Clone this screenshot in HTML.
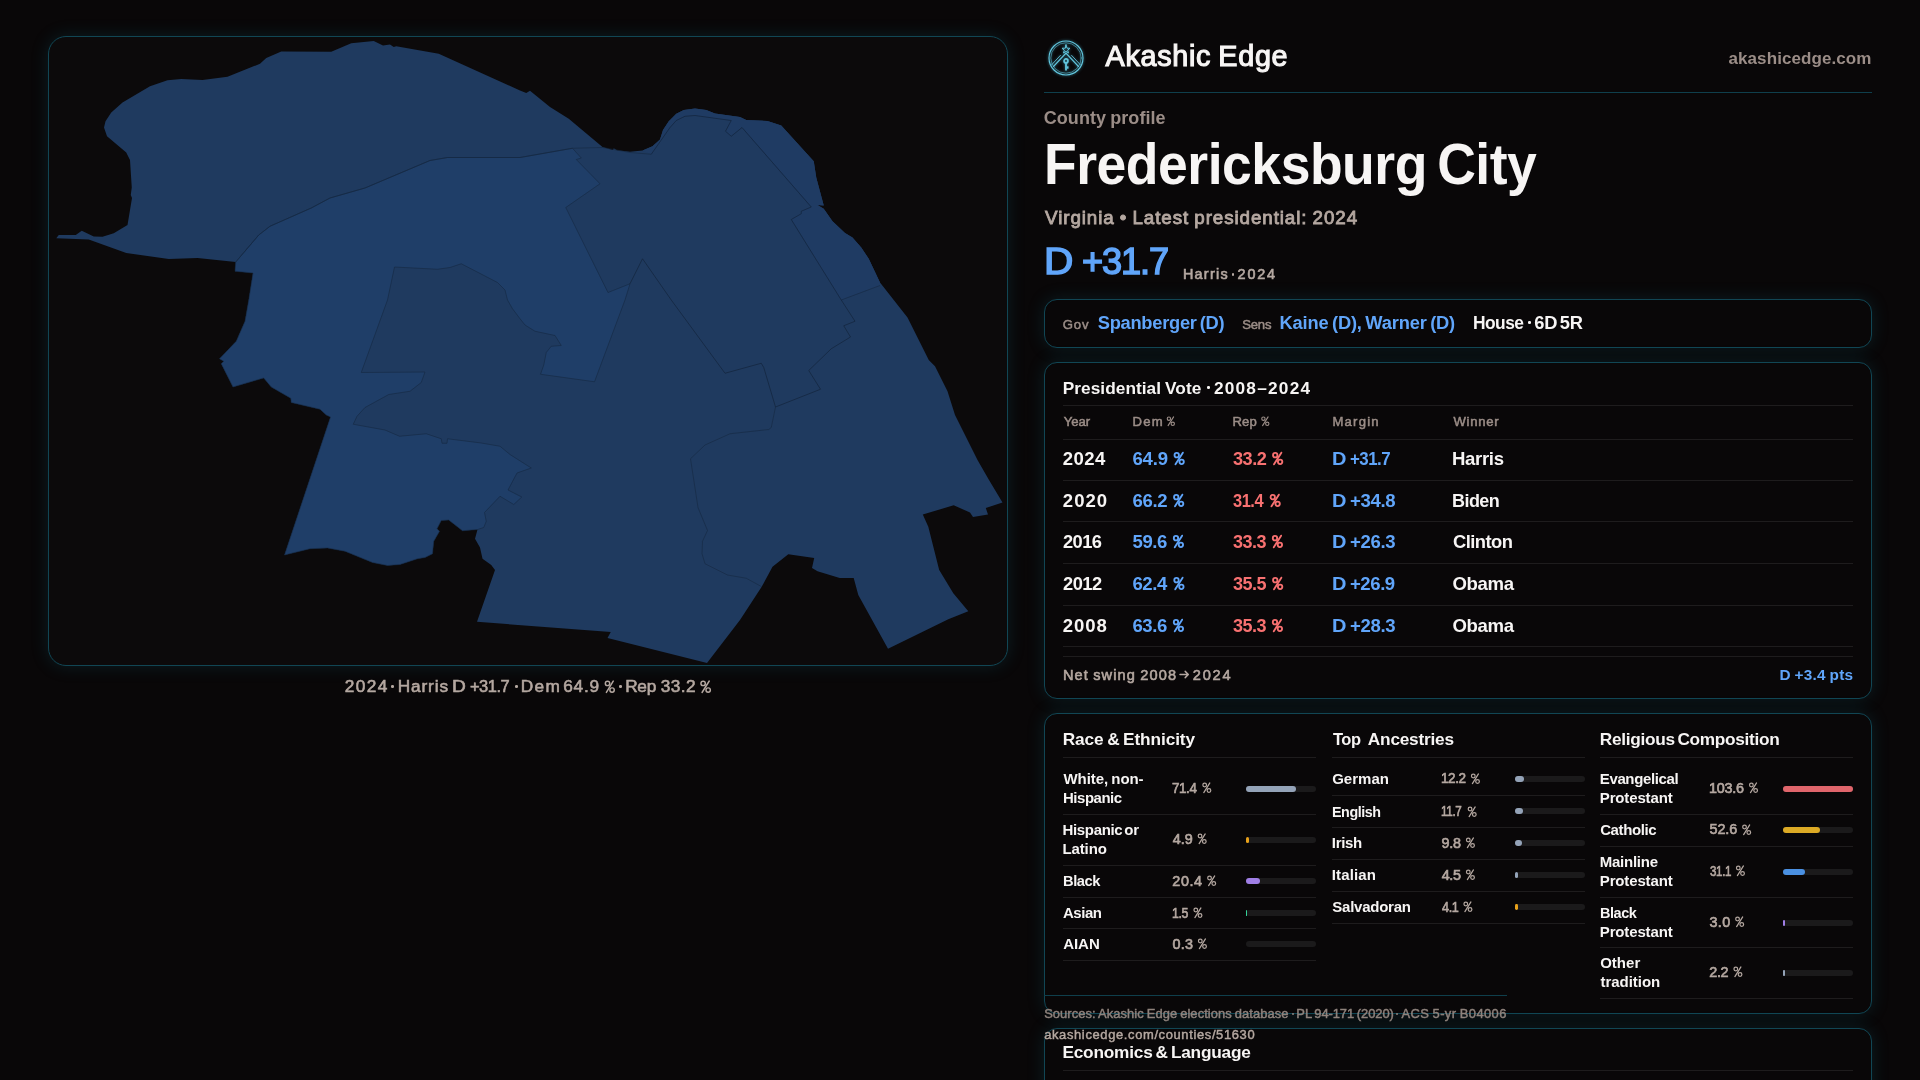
<!DOCTYPE html>
<html><head><meta charset="utf-8"><title>Fredericksburg City</title><style>
html,body{margin:0;padding:0;background:#090708;}
body{width:1920px;height:1080px;position:relative;overflow:hidden;font-family:"Liberation Sans",sans-serif;}
.t{position:absolute;white-space:nowrap;line-height:1;}
.panel{position:absolute;box-sizing:border-box;border:1px solid #114654;border-radius:13px;background:#090708;box-shadow:0 0 18px rgba(20,120,140,0.20);}
.hl{position:absolute;height:1px;}
.tl{position:absolute;left:0;top:0;width:1920px;height:1080px;will-change:transform;}
.bt{position:absolute;width:70px;height:6px;border-radius:3px;background:#1b1a1b;}
.bf{position:absolute;height:6px;}
.map{position:absolute;left:48px;top:37px;}
.logo{position:absolute;left:1046px;top:38px;filter:drop-shadow(0 0 1.5px rgba(80,200,230,0.6));}
</style></head><body>
<div class="panel" style="left:48px;top:36px;width:960px;height:629.5px;border-radius:18px;background:#0c0a0b"></div>
<svg class="map" width="960" height="629" viewBox="0 0 960 629">
<polygon points="8.25,201.25 10.75,198.00 27.75,198.00 33.75,193.75 45.75,199.50 54.50,199.75 65.75,196.25 79.50,188.00 84.00,161.00 82.75,158.00 83.75,150.50 82.00,123.00 78.25,115.50 59.00,99.25 56.00,90.50 57.50,84.25 63.25,75.50 74.50,65.50 102.00,49.25 119.50,43.25 133.25,42.00 154.50,43.00 179.50,39.75 212.00,26.75 218.25,21.00 233.25,14.50 283.25,14.75 303.25,6.25 325.75,4.00 335.00,8.50 342.00,7.50 345.75,10.00 348.25,9.25 390.75,16.75 472.00,53.50 478.25,56.00 482.00,53.75 502.00,70.00 520.75,81.75 554.50,110.00 565.00,113.00 565.75,111.25 569.00,113.25 582.00,114.75 594.50,113.50 604.50,109.25 612.00,102.50 615.00,93.00 620.75,84.25 628.25,76.75 635.75,73.00 647.00,71.50 658.25,73.00 667.00,76.50 692.00,80.00 698.25,83.00 719.50,84.00 733.25,88.50 765.75,124.25 768.25,140.50 775.75,168.50 769.50,168.00 775.75,171.75 784.50,184.25 797.00,196.00 804.50,200.50 813.25,210.50 820.75,221.75 832.00,245.50 845.75,263.00 859.50,280.50 880.75,323.00 887.00,329.25 899.50,354.25 907.00,378.00 929.50,423.00 941.00,443.00 954.50,465.50 937.80,471.00 940.00,477.50 925.00,480.00 922.00,475.50 905.70,468.30 874.80,477.50 880.30,489.70 891.20,533.00 905.30,556.30 920.30,574.20 900.30,582.20 840.00,611.80 810.30,558.00 805.70,541.00 791.70,541.00 769.50,534.30 764.00,531.00 766.20,521.00 740.30,517.20 724.50,529.70 713.70,549.70 692.00,583.00 659.00,626.00 559.50,601.00 562.75,595.00 429.00,584.75 447.00,533.00 443.25,528.00 434.50,521.75 432.00,510.50 427.00,501.75 429.50,492.50 414.50,493.75 400.75,483.00 393.25,483.50 389.00,491.75 391.50,494.25 385.75,504.25 384.50,516.75 377.00,520.50 369.50,521.75 352.00,527.50 339.50,528.50 324.50,525.50 297.00,514.25 279.50,511.00 262.00,511.75 236.50,518.00 282.50,380.00 278.25,378.00 272.00,372.25 243.25,365.50 242.75,361.25 223.25,350.00 215.75,341.00 185.00,350.00 173.25,326.75 175.75,324.25 171.50,321.75 188.25,304.25 197.00,284.25 200.75,263.00 205.00,236.00 187.00,234.25 187.75,225.00 149.50,221.00 120.75,222.00 78.25,216.00 40.75,202.50" fill="#1f3a5f"/>
<polygon points="603.25,117.25 622.00,90.50 628.25,83.50 637.00,79.25 647.00,78.50 683.25,83.50 677.50,94.25 683.25,99.25 694.00,90.50 763.25,170.00 753.25,174.25 753.25,176.75 743.25,182.50 793.25,263.00 832.00,248.50 832.00,245.50 820.75,221.75 813.25,210.50 804.50,200.50 797.00,196.00 784.50,184.25 775.75,171.75 769.50,168.00 775.75,168.50 768.25,140.50 765.75,124.25 733.25,88.50 719.50,84.00 698.25,83.00 692.00,80.00 667.00,76.50 658.25,73.00 647.00,71.50 635.75,73.00 628.25,76.75 620.75,84.25 615.00,93.00 612.00,102.50 604.50,109.25 594.50,113.50" fill="#1f3b63"/>
<polygon points="187.75,225.00 210.75,198.00 222.00,189.25 263.25,171.00 282.00,161.00 317.00,151.00 382.00,123.50 399.50,120.50 472.00,120.50 524.50,111.25 533.25,121.00 528.25,122.50 552.00,146.75 517.75,170.50 560.00,255.50 582.00,246.75 577.00,263.00 546.50,344.75 492.50,337.25 495.75,328.00 498.25,315.50 503.25,309.25 513.25,308.50 507.00,298.50 487.00,294.25 477.00,288.00 472.00,281.75 464.50,271.75 459.50,263.00 457.00,253.00 449.50,245.50 413.25,226.75 402.00,230.50 389.50,232.25 346.50,230.00 339.50,263.00 313.25,335.50 377.00,335.00 373.25,345.50 362.00,354.25 340.75,357.50 317.00,370.50 309.00,379.25 305.25,387.25 337.00,393.00 351.50,399.25 378.25,396.75 393.25,401.75 394.00,406.25 399.00,406.25 399.50,401.75 433.25,406.00 452.00,409.25 462.00,417.50 483.25,431.00 469.00,436.00 460.00,453.00 473.75,460.00 465.75,467.50 452.00,459.25 436.50,475.50 438.25,484.25 435.75,490.50 429.50,492.50 414.50,493.75 400.75,483.00 393.25,483.50 389.00,491.75 391.50,494.25 385.75,504.25 384.50,516.75 377.00,520.50 369.50,521.75 352.00,527.50 339.50,528.50 324.50,525.50 297.00,514.25 279.50,511.00 262.00,511.75 236.50,518.00 282.50,380.00 278.25,378.00 272.00,372.25 243.25,365.50 242.75,361.25 223.25,350.00 215.75,341.00 185.00,350.00 173.25,326.75 175.75,324.25 171.50,321.75 188.25,304.25 197.00,284.25 200.75,263.00 205.00,236.00 187.00,234.25" fill="#1f3e68" stroke="#15273f" stroke-width="0.55"/>
<polyline points="187.75,225.00 210.75,198.00 222.00,189.25 263.25,171.00 282.00,161.00 317.00,151.00 382.00,123.50 399.50,120.50 472.00,120.50 524.50,111.25 554.50,110.50 582.00,115.50 603.25,117.25" fill="none" stroke="#15273f" stroke-width="0.55"/>
<polyline points="603.25,117.25 622.00,90.50 628.25,83.50 637.00,79.25 647.00,78.50 683.25,83.50 677.50,94.25 683.25,99.25 694.00,90.50 763.25,170.00 753.25,174.25 753.25,176.75 743.25,182.50 793.25,263.00 807.00,284.25 795.75,288.75 802.50,300.00 783.25,311.75 760.75,333.50 772.50,352.25 727.50,370.00 715.75,330.50 713.25,326.25 677.00,336.25 623.25,263.00 594.50,221.75 582.00,246.75" fill="none" stroke="#0f1d31" stroke-width="0.55"/>
<polyline points="793.25,263.00 832.00,248.50" fill="none" stroke="#15273f" stroke-width="0.55"/>
<polyline points="727.50,370.00 723.25,390.50 720.75,392.50 682.00,396.75 657.00,408.00 642.50,421.75 650.00,470.50 659.50,493.50 654.50,504.25 654.00,516.75 657.00,526.75 679.50,538.00 698.25,541.25 713.70,549.70" fill="none" stroke="#15273f" stroke-width="0.55"/>
</svg>
<div class="hl" style="left:1044px;top:91.7px;width:828px;background:#0f3f4c"></div>
<svg class="logo" width="40" height="40" viewBox="-20 -20 40 40" fill="none" stroke="#62c6de" stroke-linecap="round" stroke-linejoin="round">
<circle r="17" stroke-width="1.15"/><circle r="15.2" stroke-width="0.75" opacity="0.7"/>
<path d="M0,-4.9 L-12.4,8.4 M0,-4.9 L12.4,8.4" stroke-width="1.35"/>
<path d="M-5.6,-2.6 L-14.2,6.6 M5.6,-2.6 L14.2,6.6" stroke-width="0.95" opacity="0.9"/>
<polygon points="0.00,-12.60 1.03,-9.82 3.99,-9.70 1.66,-7.86 2.47,-5.00 0.00,-6.65 -2.47,-5.00 -1.66,-7.86 -3.99,-9.70 -1.03,-9.82" stroke-width="1.0"/>
<path d="M0,-12.6 V-13.6" stroke-width="0.9"/>
<circle cx="0" cy="2.9" r="1.95" stroke-width="1.7"/>
<path d="M0,5 V12.4" stroke-width="1.8" stroke-linecap="butt"/>
<path d="M0.6,8.3 H2.5 V10.7 H0.6 Z" fill="#62c6de" stroke="none"/>
</svg>
<div class="panel" style="left:1044px;top:299px;width:828px;height:49px"></div>
<div class="panel" style="left:1044px;top:362px;width:828px;height:336.5px"></div>
<div class="panel" style="left:1044px;top:712.5px;width:828px;height:301px"></div>
<div class="panel" style="left:1044px;top:1027.8px;width:828px;height:120px"></div>
<div class="hl" style="left:1044px;top:994.8px;width:463px;background:#0f3f4c"></div>
<div class="hl" style="left:1063px;top:404.75px;width:790px;background:#1e1c1d"></div><div class="hl" style="left:1063px;top:439.00px;width:790px;background:#1e1c1d"></div><div class="hl" style="left:1063px;top:480.00px;width:790px;background:#1e1c1d"></div><div class="hl" style="left:1063px;top:521.00px;width:790px;background:#1e1c1d"></div><div class="hl" style="left:1063px;top:563.00px;width:790px;background:#1e1c1d"></div><div class="hl" style="left:1063px;top:605.00px;width:790px;background:#1e1c1d"></div><div class="hl" style="left:1063px;top:646.00px;width:790px;background:#1e1c1d"></div><div class="hl" style="left:1063px;top:655.75px;width:790px;background:#1e1c1d"></div><div class="hl" style="left:1063px;top:757.00px;width:253px;background:#1e1c1d"></div><div class="hl" style="left:1063px;top:814.00px;width:253px;background:#1e1c1d"></div><div class="hl" style="left:1063px;top:864.75px;width:253px;background:#1e1c1d"></div><div class="hl" style="left:1063px;top:897.00px;width:253px;background:#1e1c1d"></div><div class="hl" style="left:1063px;top:927.75px;width:253px;background:#1e1c1d"></div><div class="hl" style="left:1063px;top:960.00px;width:253px;background:#1e1c1d"></div><div class="hl" style="left:1332px;top:757.00px;width:253px;background:#1e1c1d"></div><div class="hl" style="left:1332px;top:794.75px;width:253px;background:#1e1c1d"></div><div class="hl" style="left:1332px;top:826.75px;width:253px;background:#1e1c1d"></div><div class="hl" style="left:1332px;top:858.75px;width:253px;background:#1e1c1d"></div><div class="hl" style="left:1332px;top:890.75px;width:253px;background:#1e1c1d"></div><div class="hl" style="left:1332px;top:922.75px;width:253px;background:#1e1c1d"></div><div class="hl" style="left:1600px;top:757.00px;width:253px;background:#1e1c1d"></div><div class="hl" style="left:1600px;top:814.00px;width:253px;background:#1e1c1d"></div><div class="hl" style="left:1600px;top:846.00px;width:253px;background:#1e1c1d"></div><div class="hl" style="left:1600px;top:897.00px;width:253px;background:#1e1c1d"></div><div class="hl" style="left:1600px;top:947.00px;width:253px;background:#1e1c1d"></div><div class="hl" style="left:1600px;top:997.75px;width:253px;background:#1e1c1d"></div><div class="hl" style="left:1063px;top:1069.60px;width:790px;background:#1e1c1d"></div>
<div class="bt" style="left:1245.75px;top:785.75px"></div><div class="bf" style="left:1245.75px;top:785.75px;width:49.98px;background:#94a3b8;border-radius:3.0px"></div><div class="bt" style="left:1245.75px;top:837.00px"></div><div class="bf" style="left:1245.75px;top:837.00px;width:3.43px;background:#e8a11a;border-radius:1.7px"></div><div class="bt" style="left:1245.75px;top:877.75px"></div><div class="bf" style="left:1245.75px;top:877.75px;width:14.28px;background:#a07fe6;border-radius:3.0px"></div><div class="bt" style="left:1245.75px;top:910.00px"></div><div class="bf" style="left:1245.75px;top:910.00px;width:1.05px;background:#34d399;border-radius:0.5px"></div><div class="bt" style="left:1245.75px;top:940.75px"></div><div class="bt" style="left:1515px;top:775.75px"></div><div class="bf" style="left:1515px;top:775.75px;width:8.54px;background:#94a3b8;border-radius:3.0px"></div><div class="bt" style="left:1515px;top:807.75px"></div><div class="bf" style="left:1515px;top:807.75px;width:8.19px;background:#94a3b8;border-radius:3.0px"></div><div class="bt" style="left:1515px;top:839.75px"></div><div class="bf" style="left:1515px;top:839.75px;width:6.86px;background:#94a3b8;border-radius:3.0px"></div><div class="bt" style="left:1515px;top:871.75px"></div><div class="bf" style="left:1515px;top:871.75px;width:3.15px;background:#94a3b8;border-radius:1.6px"></div><div class="bt" style="left:1515px;top:903.75px"></div><div class="bf" style="left:1515px;top:903.75px;width:2.87px;background:#e8a11a;border-radius:1.4px"></div><div class="bt" style="left:1783px;top:785.75px"></div><div class="bf" style="left:1783px;top:785.75px;width:70.00px;background:#e0656b;border-radius:3.0px"></div><div class="bt" style="left:1783px;top:827.00px"></div><div class="bf" style="left:1783px;top:827.00px;width:36.82px;background:#dcaa25;border-radius:3.0px"></div><div class="bt" style="left:1783px;top:868.75px"></div><div class="bf" style="left:1783px;top:868.75px;width:21.77px;background:#4a90e2;border-radius:3.0px"></div><div class="bt" style="left:1783px;top:920.00px"></div><div class="bf" style="left:1783px;top:920.00px;width:2.10px;background:#a07fe6;border-radius:1.1px"></div><div class="bt" style="left:1783px;top:970.00px"></div><div class="bf" style="left:1783px;top:970.00px;width:1.54px;background:#94a3b8;border-radius:0.8px"></div>
<div style="position:absolute;left:1232.05px;top:273.25px;width:2.3px;height:2.3px;border-radius:50%;background:#b5a8a1"></div><div style="position:absolute;left:1528.10px;top:321.30px;width:2.6px;height:2.6px;border-radius:50%;background:#f7f5f4"></div><div style="position:absolute;left:1207.30px;top:386.30px;width:2.6px;height:2.6px;border-radius:50%;background:#f7f5f4"></div><div style="position:absolute;left:1291.60px;top:1013.30px;width:2.0px;height:2.0px;border-radius:50%;background:#8f837d"></div><div style="position:absolute;left:1396.30px;top:1013.30px;width:2.0px;height:2.0px;border-radius:50%;background:#8f837d"></div><div style="position:absolute;left:391.40px;top:685.25px;width:2.7px;height:2.7px;border-radius:50%;background:#b5a8a1"></div><div style="position:absolute;left:514.85px;top:685.25px;width:2.7px;height:2.7px;border-radius:50%;background:#b5a8a1"></div><div style="position:absolute;left:618.95px;top:685.25px;width:2.7px;height:2.7px;border-radius:50%;background:#b5a8a1"></div>
<svg style="position:absolute;left:0;top:0" width="1920" height="1080" viewBox="0 0 1920 1080" fill="none" stroke-linecap="round"><g stroke="#9b8d87" stroke-width="1.11"><circle cx="1168.91" cy="418.73" r="1.67"/><circle cx="1172.77" cy="423.77" r="1.67"/><path d="M1173.59,416.89 L1168.10,425.61"/></g><g stroke="#9b8d87" stroke-width="1.11"><circle cx="1263.41" cy="418.73" r="1.67"/><circle cx="1267.27" cy="423.77" r="1.67"/><path d="M1268.09,416.89 L1262.60,425.61"/></g><g stroke="#60a5fa" stroke-width="1.86"><circle cx="1176.74" cy="455.13" r="2.20"/><circle cx="1181.62" cy="461.87" r="2.20"/><path d="M1182.86,452.65 L1175.50,464.35"/></g><g stroke="#f87171" stroke-width="1.86"><circle cx="1275.24" cy="455.13" r="2.20"/><circle cx="1280.12" cy="461.87" r="2.20"/><path d="M1281.36,452.65 L1274.00,464.35"/></g><g stroke="#60a5fa" stroke-width="1.86"><circle cx="1176.24" cy="497.13" r="2.20"/><circle cx="1181.12" cy="503.87" r="2.20"/><path d="M1182.36,494.65 L1175.00,506.35"/></g><g stroke="#f87171" stroke-width="1.86"><circle cx="1272.74" cy="497.13" r="2.20"/><circle cx="1277.62" cy="503.87" r="2.20"/><path d="M1278.86,494.65 L1271.50,506.35"/></g><g stroke="#60a5fa" stroke-width="1.86"><circle cx="1175.99" cy="538.13" r="2.20"/><circle cx="1180.87" cy="544.87" r="2.20"/><path d="M1182.11,535.65 L1174.75,547.35"/></g><g stroke="#f87171" stroke-width="1.86"><circle cx="1274.99" cy="538.13" r="2.20"/><circle cx="1279.87" cy="544.87" r="2.20"/><path d="M1281.11,535.65 L1273.75,547.35"/></g><g stroke="#60a5fa" stroke-width="1.86"><circle cx="1176.49" cy="580.13" r="2.20"/><circle cx="1181.37" cy="586.87" r="2.20"/><path d="M1182.61,577.65 L1175.25,589.35"/></g><g stroke="#f87171" stroke-width="1.86"><circle cx="1275.24" cy="580.13" r="2.20"/><circle cx="1280.12" cy="586.87" r="2.20"/><path d="M1281.36,577.65 L1274.00,589.35"/></g><g stroke="#60a5fa" stroke-width="1.86"><circle cx="1175.99" cy="622.13" r="2.20"/><circle cx="1180.87" cy="628.87" r="2.20"/><path d="M1182.11,619.65 L1174.75,631.35"/></g><g stroke="#f87171" stroke-width="1.86"><circle cx="1274.99" cy="622.13" r="2.20"/><circle cx="1279.87" cy="628.87" r="2.20"/><path d="M1281.11,619.65 L1273.75,631.35"/></g><g stroke="#b5a8a1" stroke-width="1.23"><circle cx="1204.69" cy="784.96" r="1.84"/><circle cx="1208.94" cy="790.54" r="1.84"/><path d="M1209.84,782.93 L1203.79,792.57"/></g><g stroke="#b5a8a1" stroke-width="1.23"><circle cx="1200.04" cy="835.96" r="1.84"/><circle cx="1204.29" cy="841.54" r="1.84"/><path d="M1205.19,833.93 L1199.14,843.57"/></g><g stroke="#b5a8a1" stroke-width="1.23"><circle cx="1209.54" cy="877.96" r="1.84"/><circle cx="1213.79" cy="883.54" r="1.84"/><path d="M1214.69,875.93 L1208.64,885.57"/></g><g stroke="#b5a8a1" stroke-width="1.23"><circle cx="1195.79" cy="909.96" r="1.84"/><circle cx="1200.04" cy="915.54" r="1.84"/><path d="M1200.94,907.93 L1194.89,917.57"/></g><g stroke="#b5a8a1" stroke-width="1.23"><circle cx="1200.29" cy="940.96" r="1.84"/><circle cx="1204.54" cy="946.54" r="1.84"/><path d="M1205.44,938.93 L1199.39,948.57"/></g><g stroke="#b5a8a1" stroke-width="1.23"><circle cx="1473.29" cy="775.96" r="1.84"/><circle cx="1477.54" cy="781.54" r="1.84"/><path d="M1478.44,773.93 L1472.39,783.57"/></g><g stroke="#b5a8a1" stroke-width="1.23"><circle cx="1470.04" cy="808.96" r="1.84"/><circle cx="1474.29" cy="814.54" r="1.84"/><path d="M1475.19,806.93 L1469.14,816.57"/></g><g stroke="#b5a8a1" stroke-width="1.23"><circle cx="1468.29" cy="839.96" r="1.84"/><circle cx="1472.54" cy="845.54" r="1.84"/><path d="M1473.44,837.93 L1467.39,847.57"/></g><g stroke="#b5a8a1" stroke-width="1.23"><circle cx="1468.29" cy="871.96" r="1.84"/><circle cx="1472.54" cy="877.54" r="1.84"/><path d="M1473.44,869.93 L1467.39,879.57"/></g><g stroke="#b5a8a1" stroke-width="1.23"><circle cx="1465.79" cy="903.96" r="1.84"/><circle cx="1470.04" cy="909.54" r="1.84"/><path d="M1470.94,901.93 L1464.89,911.57"/></g><g stroke="#b5a8a1" stroke-width="1.23"><circle cx="1751.39" cy="784.96" r="1.84"/><circle cx="1755.64" cy="790.54" r="1.84"/><path d="M1756.54,782.93 L1750.49,792.57"/></g><g stroke="#b5a8a1" stroke-width="1.23"><circle cx="1744.54" cy="826.96" r="1.84"/><circle cx="1748.79" cy="832.54" r="1.84"/><path d="M1749.69,824.93 L1743.64,834.57"/></g><g stroke="#b5a8a1" stroke-width="1.23"><circle cx="1738.29" cy="867.96" r="1.84"/><circle cx="1742.54" cy="873.54" r="1.84"/><path d="M1743.44,865.93 L1737.39,875.57"/></g><g stroke="#b5a8a1" stroke-width="1.23"><circle cx="1737.54" cy="918.96" r="1.84"/><circle cx="1741.79" cy="924.54" r="1.84"/><path d="M1742.69,916.93 L1736.64,926.57"/></g><g stroke="#b5a8a1" stroke-width="1.23"><circle cx="1735.79" cy="968.96" r="1.84"/><circle cx="1740.04" cy="974.54" r="1.84"/><path d="M1740.94,966.93 L1734.89,976.57"/></g><g stroke="#b5a8a1" stroke-width="1.46"><circle cx="607.53" cy="683.43" r="2.20"/><circle cx="612.07" cy="690.07" r="2.20"/><path d="M613.23,681.01 L606.37,692.49"/></g><g stroke="#b5a8a1" stroke-width="1.46"><circle cx="703.13" cy="683.43" r="2.20"/><circle cx="708.17" cy="690.07" r="2.20"/><path d="M709.25,681.01 L702.05,692.49"/></g></svg>
<svg style="position:absolute;left:1176px;top:668px" width="16" height="13" viewBox="1176 668 16 13" fill="none" stroke="#b5a8a1" stroke-width="1.5" stroke-linecap="round" stroke-linejoin="round"><path d="M1180,674.5 H1188 M1185.2,671.4 L1188.3,674.5 L1185.2,677.6"/></svg>
<div class="tl"><span class="t" style="left:1105.52px;top:42.00px;font-size:28.78px;letter-spacing:0.693px;color:#f7f5f4;word-spacing:-1.439px;-webkit-text-stroke:1.15px #f7f5f4;">Akashic Edge</span><span class="t" style="left:1728.50px;top:50.00px;font-size:17.00px;letter-spacing:0.087px;color:#9b8d87;font-weight:700;">akashicedge.com</span><span class="t" style="left:1043.76px;top:109.00px;font-size:18.00px;letter-spacing:0.059px;color:#9b8d87;word-spacing:-0.900px;font-weight:700;">County profile</span><span class="t" style="left:1044.17px;top:136.00px;font-size:57.57px;letter-spacing:-0.526px;color:#f7f5f4;word-spacing:-4.457px;font-weight:700;transform:scaleX(0.93);transform-origin:0 0;">Fredericksburg City</span><span class="t" style="left:1045.04px;top:209.00px;font-size:18.79px;letter-spacing:0.911px;color:#b5a8a1;word-spacing:-0.940px;-webkit-text-stroke:0.85px #b5a8a1;">Virginia • Latest presidential: 2024</span><span class="t" style="left:1044.28px;top:243.00px;font-size:37.30px;letter-spacing:0.000px;color:#60a5fa;-webkit-text-stroke:1.49px #60a5fa;transform:scaleX(1.0898773248670819);transform-origin:0 0;">D</span><span class="t" style="left:1081.86px;top:243.00px;font-size:37.30px;letter-spacing:-1.119px;color:#60a5fa;-webkit-text-stroke:1.49px #60a5fa;transform:scaleX(0.9693266716845824);transform-origin:0 0;">+31.7</span><span class="t" style="left:1182.90px;top:267.00px;font-size:14.36px;letter-spacing:1.300px;color:#b5a8a1;-webkit-text-stroke:0.65px #b5a8a1;">Harris</span><span class="t" style="left:1237.60px;top:267.00px;font-size:14.36px;letter-spacing:1.847px;color:#b5a8a1;-webkit-text-stroke:0.65px #b5a8a1;">2024</span><span class="t" style="left:1062.85px;top:318.00px;font-size:13.11px;letter-spacing:0.822px;color:#9b8d87;-webkit-text-stroke:0.52px #9b8d87;">Gov</span><span class="t" style="left:1097.72px;top:314.00px;font-size:18.29px;letter-spacing:-0.264px;color:#60a5fa;word-spacing:-1.707px;font-weight:700;">Spanberger (D)</span><span class="t" style="left:1242.16px;top:318.00px;font-size:13.11px;letter-spacing:-0.193px;color:#9b8d87;-webkit-text-stroke:0.52px #9b8d87;">Sens</span><span class="t" style="left:1279.53px;top:314.00px;font-size:18.29px;letter-spacing:-0.164px;color:#60a5fa;word-spacing:-1.406px;font-weight:700;">Kaine (D), Warner (D)</span><span class="t" style="left:1473.34px;top:314.00px;font-size:18.29px;letter-spacing:-0.549px;color:#f7f5f4;font-weight:700;transform:scaleX(0.9500124004519275);transform-origin:0 0;">House</span><span class="t" style="left:1534.33px;top:314.00px;font-size:18.29px;letter-spacing:-0.339px;color:#f7f5f4;word-spacing:-1.931px;font-weight:700;">6D 5R</span><span class="t" style="left:1062.75px;top:380.00px;font-size:17.25px;letter-spacing:0.046px;color:#f7f5f4;word-spacing:-0.863px;font-weight:700;">Presidential Vote</span><span class="t" style="left:1213.90px;top:380.00px;font-size:17.25px;letter-spacing:1.231px;color:#f7f5f4;font-weight:700;">2008–2024</span><span class="t" style="left:1063.87px;top:415.00px;font-size:13.11px;letter-spacing:-0.118px;color:#9b8d87;-webkit-text-stroke:0.52px #9b8d87;">Year</span><span class="t" style="left:1132.43px;top:415.00px;font-size:13.11px;letter-spacing:1.269px;color:#9b8d87;-webkit-text-stroke:0.52px #9b8d87;">Dem</span><span class="t" style="left:1232.43px;top:415.00px;font-size:13.11px;letter-spacing:0.176px;color:#9b8d87;-webkit-text-stroke:0.52px #9b8d87;">Rep</span><span class="t" style="left:1332.43px;top:415.00px;font-size:13.11px;letter-spacing:1.218px;color:#9b8d87;-webkit-text-stroke:0.52px #9b8d87;">Margin</span><span class="t" style="left:1453.45px;top:415.00px;font-size:13.11px;letter-spacing:0.747px;color:#9b8d87;-webkit-text-stroke:0.52px #9b8d87;">Winner</span><span class="t" style="left:1062.86px;top:450.00px;font-size:18.57px;letter-spacing:0.376px;color:#f7f5f4;font-weight:700;">2024</span><span class="t" style="left:1132.42px;top:450.00px;font-size:18.57px;letter-spacing:-0.163px;color:#60a5fa;font-weight:700;">64.9</span><span class="t" style="left:1232.83px;top:450.00px;font-size:18.57px;letter-spacing:-0.557px;color:#f87171;font-weight:700;transform:scaleX(0.9799291399866478);transform-origin:0 0;">33.2</span><span class="t" style="left:1331.91px;top:450.00px;font-size:18.57px;letter-spacing:0.000px;color:#60a5fa;font-weight:700;transform:scaleX(1.0755512003919647);transform-origin:0 0;">D</span><span class="t" style="left:1350.04px;top:450.00px;font-size:18.57px;letter-spacing:-0.557px;color:#60a5fa;font-weight:700;transform:scaleX(0.909275421148772);transform-origin:0 0;">+31.7</span><span class="t" style="left:1452.01px;top:450.00px;font-size:18.57px;letter-spacing:-0.336px;color:#f7f5f4;font-weight:700;">Harris</span><span class="t" style="left:1062.86px;top:492.00px;font-size:18.57px;letter-spacing:0.947px;color:#f7f5f4;font-weight:700;">2020</span><span class="t" style="left:1132.42px;top:492.00px;font-size:18.57px;letter-spacing:-0.312px;color:#60a5fa;font-weight:700;">66.2</span><span class="t" style="left:1232.87px;top:492.00px;font-size:18.57px;letter-spacing:-0.557px;color:#f87171;font-weight:700;transform:scaleX(0.8877024334755785);transform-origin:0 0;">31.4</span><span class="t" style="left:1331.91px;top:492.00px;font-size:18.57px;letter-spacing:0.000px;color:#60a5fa;font-weight:700;transform:scaleX(1.0755512003919647);transform-origin:0 0;">D</span><span class="t" style="left:1349.97px;top:492.00px;font-size:18.57px;letter-spacing:-0.347px;color:#60a5fa;font-weight:700;">+34.8</span><span class="t" style="left:1452.05px;top:492.00px;font-size:18.57px;letter-spacing:-0.557px;color:#f7f5f4;font-weight:700;transform:scaleX(0.9687907878375976);transform-origin:0 0;">Biden</span><span class="t" style="left:1062.87px;top:533.00px;font-size:18.57px;letter-spacing:-0.557px;color:#f7f5f4;font-weight:700;transform:scaleX(0.9849228818254152);transform-origin:0 0;">2016</span><span class="t" style="left:1132.53px;top:533.00px;font-size:18.57px;letter-spacing:-0.456px;color:#60a5fa;font-weight:700;">59.6</span><span class="t" style="left:1232.84px;top:533.00px;font-size:18.57px;letter-spacing:-0.557px;color:#f87171;font-weight:700;transform:scaleX(0.970308998086476);transform-origin:0 0;">33.3</span><span class="t" style="left:1331.91px;top:533.00px;font-size:18.57px;letter-spacing:0.000px;color:#60a5fa;font-weight:700;transform:scaleX(1.0755512003919647);transform-origin:0 0;">D</span><span class="t" style="left:1349.97px;top:533.00px;font-size:18.57px;letter-spacing:-0.322px;color:#60a5fa;font-weight:700;">+26.3</span><span class="t" style="left:1452.50px;top:533.00px;font-size:18.57px;letter-spacing:-0.557px;color:#f7f5f4;font-weight:700;transform:scaleX(0.9882116474456825);transform-origin:0 0;">Clinton</span><span class="t" style="left:1062.86px;top:575.00px;font-size:18.57px;letter-spacing:-0.557px;color:#f7f5f4;font-weight:700;transform:scaleX(0.9867906184289508);transform-origin:0 0;">2012</span><span class="t" style="left:1132.42px;top:575.00px;font-size:18.57px;letter-spacing:-0.443px;color:#60a5fa;font-weight:700;">62.4</span><span class="t" style="left:1232.84px;top:575.00px;font-size:18.57px;letter-spacing:-0.557px;color:#f87171;font-weight:700;transform:scaleX(0.97330384290857);transform-origin:0 0;">35.5</span><span class="t" style="left:1331.91px;top:575.00px;font-size:18.57px;letter-spacing:0.000px;color:#60a5fa;font-weight:700;transform:scaleX(1.0755512003919647);transform-origin:0 0;">D</span><span class="t" style="left:1349.97px;top:575.00px;font-size:18.57px;letter-spacing:-0.443px;color:#60a5fa;font-weight:700;">+26.9</span><span class="t" style="left:1452.49px;top:575.00px;font-size:18.57px;letter-spacing:-0.329px;color:#f7f5f4;font-weight:700;">Obama</span><span class="t" style="left:1062.86px;top:617.00px;font-size:18.57px;letter-spacing:0.884px;color:#f7f5f4;font-weight:700;">2008</span><span class="t" style="left:1132.42px;top:617.00px;font-size:18.57px;letter-spacing:-0.420px;color:#60a5fa;font-weight:700;">63.6</span><span class="t" style="left:1232.84px;top:617.00px;font-size:18.57px;letter-spacing:-0.557px;color:#f87171;font-weight:700;transform:scaleX(0.970308998086476);transform-origin:0 0;">35.3</span><span class="t" style="left:1331.91px;top:617.00px;font-size:18.57px;letter-spacing:0.000px;color:#60a5fa;font-weight:700;transform:scaleX(1.0755512003919647);transform-origin:0 0;">D</span><span class="t" style="left:1349.97px;top:617.00px;font-size:18.57px;letter-spacing:-0.322px;color:#60a5fa;font-weight:700;">+28.3</span><span class="t" style="left:1452.49px;top:617.00px;font-size:18.57px;letter-spacing:-0.329px;color:#f7f5f4;font-weight:700;">Obama</span><span class="t" style="left:1062.89px;top:668.00px;font-size:14.59px;letter-spacing:1.085px;color:#b5a8a1;word-spacing:-0.730px;-webkit-text-stroke:0.58px #b5a8a1;">Net swing 2008</span><span class="t" style="left:1192.86px;top:668.00px;font-size:14.59px;letter-spacing:1.771px;color:#b5a8a1;-webkit-text-stroke:0.58px #b5a8a1;">2024</span><span class="t" style="left:1779.47px;top:667.00px;font-size:15.35px;letter-spacing:0.250px;color:#60a5fa;word-spacing:-0.768px;font-weight:700;">D +3.4 pts</span><span class="t" style="left:1062.75px;top:731.00px;font-size:17.25px;letter-spacing:-0.098px;color:#f7f5f4;word-spacing:-1.155px;font-weight:700;">Race &amp; Ethnicity</span><span class="t" style="left:1332.71px;top:731.00px;font-size:17.25px;letter-spacing:-0.517px;color:#f7f5f4;font-weight:700;transform:scaleX(0.9553587383514779);transform-origin:0 0;">Top</span><span class="t" style="left:1367.87px;top:731.00px;font-size:17.25px;letter-spacing:-0.231px;color:#f7f5f4;font-weight:700;">Ancestries</span><span class="t" style="left:1599.75px;top:731.00px;font-size:17.25px;letter-spacing:-0.300px;color:#f7f5f4;word-spacing:-1.762px;font-weight:700;">Religious Composition</span><span class="t" style="left:1063.54px;top:771.00px;font-size:15.00px;letter-spacing:-0.064px;color:#f7f5f4;word-spacing:-0.941px;font-weight:700;">White, non-</span><span class="t" style="left:1062.55px;top:790.00px;font-size:15.00px;letter-spacing:-0.450px;color:#f7f5f4;font-weight:700;transform:scaleX(0.996087118510914);transform-origin:0 0;">Hispanic</span><span class="t" style="left:1172.37px;top:781.00px;font-size:14.36px;letter-spacing:-0.431px;color:#b5a8a1;-webkit-text-stroke:0.65px #b5a8a1;transform:scaleX(0.9313361873577756);transform-origin:0 0;">71.4</span><span class="t" style="left:1062.55px;top:822.00px;font-size:15.00px;letter-spacing:-0.347px;color:#f7f5f4;word-spacing:-1.790px;font-weight:700;">Hispanic or</span><span class="t" style="left:1062.55px;top:841.00px;font-size:15.00px;letter-spacing:-0.141px;color:#f7f5f4;font-weight:700;">Latino</span><span class="t" style="left:1172.75px;top:832.00px;font-size:14.36px;letter-spacing:0.051px;color:#b5a8a1;-webkit-text-stroke:0.65px #b5a8a1;">4.9</span><span class="t" style="left:1062.57px;top:873.00px;font-size:15.00px;letter-spacing:-0.450px;color:#f7f5f4;font-weight:700;transform:scaleX(0.9788365616099958);transform-origin:0 0;">Black</span><span class="t" style="left:1172.35px;top:874.00px;font-size:14.36px;letter-spacing:0.583px;color:#b5a8a1;-webkit-text-stroke:0.65px #b5a8a1;">20.4</span><span class="t" style="left:1063.18px;top:905.00px;font-size:15.00px;letter-spacing:-0.450px;color:#f7f5f4;font-weight:700;transform:scaleX(0.998848620802965);transform-origin:0 0;">Asian</span><span class="t" style="left:1172.09px;top:906.00px;font-size:14.36px;letter-spacing:-0.431px;color:#b5a8a1;-webkit-text-stroke:0.65px #b5a8a1;transform:scaleX(0.8560658336881646);transform-origin:0 0;">1.5</span><span class="t" style="left:1063.18px;top:936.00px;font-size:15.00px;letter-spacing:-0.027px;color:#f7f5f4;font-weight:700;">AIAN</span><span class="t" style="left:1172.51px;top:937.00px;font-size:14.36px;letter-spacing:0.267px;color:#b5a8a1;-webkit-text-stroke:0.65px #b5a8a1;">0.3</span><span class="t" style="left:1332.18px;top:771.00px;font-size:15.00px;letter-spacing:0.011px;color:#f7f5f4;font-weight:700;">German</span><span class="t" style="left:1441.03px;top:771.00px;font-size:14.36px;letter-spacing:-0.431px;color:#b5a8a1;-webkit-text-stroke:0.65px #b5a8a1;transform:scaleX(0.9397281461377032);transform-origin:0 0;">12.2</span><span class="t" style="left:1331.84px;top:804.00px;font-size:15.00px;letter-spacing:-0.450px;color:#f7f5f4;font-weight:700;transform:scaleX(0.9528360657030439);transform-origin:0 0;">English</span><span class="t" style="left:1441.13px;top:804.00px;font-size:14.36px;letter-spacing:-0.431px;color:#b5a8a1;-webkit-text-stroke:0.65px #b5a8a1;transform:scaleX(0.81224944648872);transform-origin:0 0;">11.7</span><span class="t" style="left:1331.80px;top:835.00px;font-size:15.00px;letter-spacing:-0.323px;color:#f7f5f4;font-weight:700;">Irish</span><span class="t" style="left:1441.40px;top:836.00px;font-size:14.36px;letter-spacing:-0.180px;color:#b5a8a1;-webkit-text-stroke:0.65px #b5a8a1;">9.8</span><span class="t" style="left:1331.80px;top:867.00px;font-size:15.00px;letter-spacing:0.131px;color:#f7f5f4;font-weight:700;">Italian</span><span class="t" style="left:1441.75px;top:868.00px;font-size:14.36px;letter-spacing:-0.363px;color:#b5a8a1;-webkit-text-stroke:0.65px #b5a8a1;">4.5</span><span class="t" style="left:1332.37px;top:899.00px;font-size:15.00px;letter-spacing:-0.256px;color:#f7f5f4;font-weight:700;">Salvadoran</span><span class="t" style="left:1441.75px;top:900.00px;font-size:14.36px;letter-spacing:-0.431px;color:#b5a8a1;-webkit-text-stroke:0.65px #b5a8a1;transform:scaleX(0.8790143663429877);transform-origin:0 0;">4.1</span><span class="t" style="left:1599.80px;top:771.00px;font-size:15.00px;letter-spacing:-0.378px;color:#f7f5f4;font-weight:700;">Evangelical</span><span class="t" style="left:1599.80px;top:790.00px;font-size:15.00px;letter-spacing:-0.144px;color:#f7f5f4;font-weight:700;">Protestant</span><span class="t" style="left:1708.93px;top:781.00px;font-size:14.36px;letter-spacing:-0.190px;color:#b5a8a1;-webkit-text-stroke:0.65px #b5a8a1;">103.6</span><span class="t" style="left:1600.18px;top:822.00px;font-size:15.00px;letter-spacing:-0.381px;color:#f7f5f4;font-weight:700;">Catholic</span><span class="t" style="left:1709.50px;top:822.00px;font-size:14.36px;letter-spacing:-0.063px;color:#b5a8a1;-webkit-text-stroke:0.65px #b5a8a1;">52.6</span><span class="t" style="left:1599.80px;top:854.00px;font-size:15.00px;letter-spacing:-0.256px;color:#f7f5f4;font-weight:700;">Mainline</span><span class="t" style="left:1599.80px;top:873.00px;font-size:15.00px;letter-spacing:-0.144px;color:#f7f5f4;font-weight:700;">Protestant</span><span class="t" style="left:1709.57px;top:864.00px;font-size:14.36px;letter-spacing:-0.431px;color:#b5a8a1;-webkit-text-stroke:0.65px #b5a8a1;transform:scaleX(0.8041384035628649);transform-origin:0 0;">31.1</span><span class="t" style="left:1599.83px;top:905.00px;font-size:15.00px;letter-spacing:-0.450px;color:#f7f5f4;font-weight:700;transform:scaleX(0.9654094482820123);transform-origin:0 0;">Black</span><span class="t" style="left:1599.80px;top:924.00px;font-size:15.00px;letter-spacing:-0.144px;color:#f7f5f4;font-weight:700;">Protestant</span><span class="t" style="left:1709.53px;top:915.00px;font-size:14.36px;letter-spacing:0.350px;color:#b5a8a1;-webkit-text-stroke:0.65px #b5a8a1;">3.0</span><span class="t" style="left:1600.18px;top:955.00px;font-size:15.00px;letter-spacing:0.009px;color:#f7f5f4;font-weight:700;">Other</span><span class="t" style="left:1600.62px;top:974.00px;font-size:15.00px;letter-spacing:-0.054px;color:#f7f5f4;font-weight:700;">tradition</span><span class="t" style="left:1709.35px;top:965.00px;font-size:14.36px;letter-spacing:-0.357px;color:#b5a8a1;-webkit-text-stroke:0.65px #b5a8a1;">2.2</span><span class="t" style="left:1044.14px;top:1008.00px;font-size:12.93px;letter-spacing:0.069px;color:#8f837d;word-spacing:-0.646px;-webkit-text-stroke:0.45px #8f837d;">Sources: Akashic Edge elections database</span><span class="t" style="left:1296.36px;top:1008.00px;font-size:12.93px;letter-spacing:-0.062px;color:#8f837d;word-spacing:-0.831px;-webkit-text-stroke:0.45px #8f837d;">PL 94-171 (2020)</span><span class="t" style="left:1401.40px;top:1008.00px;font-size:12.93px;letter-spacing:0.411px;color:#8f837d;word-spacing:-0.646px;-webkit-text-stroke:0.45px #8f837d;">ACS 5-yr B04006</span><span class="t" style="left:1044.18px;top:1029.00px;font-size:12.93px;letter-spacing:0.643px;color:#b5a8a1;-webkit-text-stroke:0.45px #b5a8a1;">akashicedge.com/counties/51630</span><span class="t" style="left:1062.45px;top:1044.00px;font-size:17.25px;letter-spacing:-0.215px;color:#f7f5f4;word-spacing:-1.507px;font-weight:700;">Economics &amp; Language</span><span class="t" style="left:344.83px;top:678.00px;font-size:17.25px;letter-spacing:1.366px;color:#b5a8a1;-webkit-text-stroke:0.6px #b5a8a1;">2024</span><span class="t" style="left:397.63px;top:678.00px;font-size:17.25px;letter-spacing:0.878px;color:#b5a8a1;-webkit-text-stroke:0.6px #b5a8a1;">Harris</span><span class="t" style="left:452.16px;top:678.00px;font-size:17.25px;letter-spacing:0.000px;color:#b5a8a1;-webkit-text-stroke:0.6px #b5a8a1;transform:scaleX(1.10937320143276);transform-origin:0 0;">D</span><span class="t" style="left:470.08px;top:678.00px;font-size:17.25px;letter-spacing:-0.517px;color:#b5a8a1;-webkit-text-stroke:0.6px #b5a8a1;transform:scaleX(0.9538547337331288);transform-origin:0 0;">+31.7</span><span class="t" style="left:520.78px;top:678.00px;font-size:17.25px;letter-spacing:1.366px;color:#b5a8a1;-webkit-text-stroke:0.6px #b5a8a1;">Dem</span><span class="t" style="left:563.17px;top:678.00px;font-size:17.25px;letter-spacing:0.790px;color:#b5a8a1;-webkit-text-stroke:0.6px #b5a8a1;">64.9</span><span class="t" style="left:625.13px;top:678.00px;font-size:17.25px;letter-spacing:-0.228px;color:#b5a8a1;-webkit-text-stroke:0.6px #b5a8a1;">Rep</span><span class="t" style="left:660.74px;top:678.00px;font-size:17.25px;letter-spacing:0.417px;color:#b5a8a1;-webkit-text-stroke:0.6px #b5a8a1;">33.2</span></div>
</body></html>
